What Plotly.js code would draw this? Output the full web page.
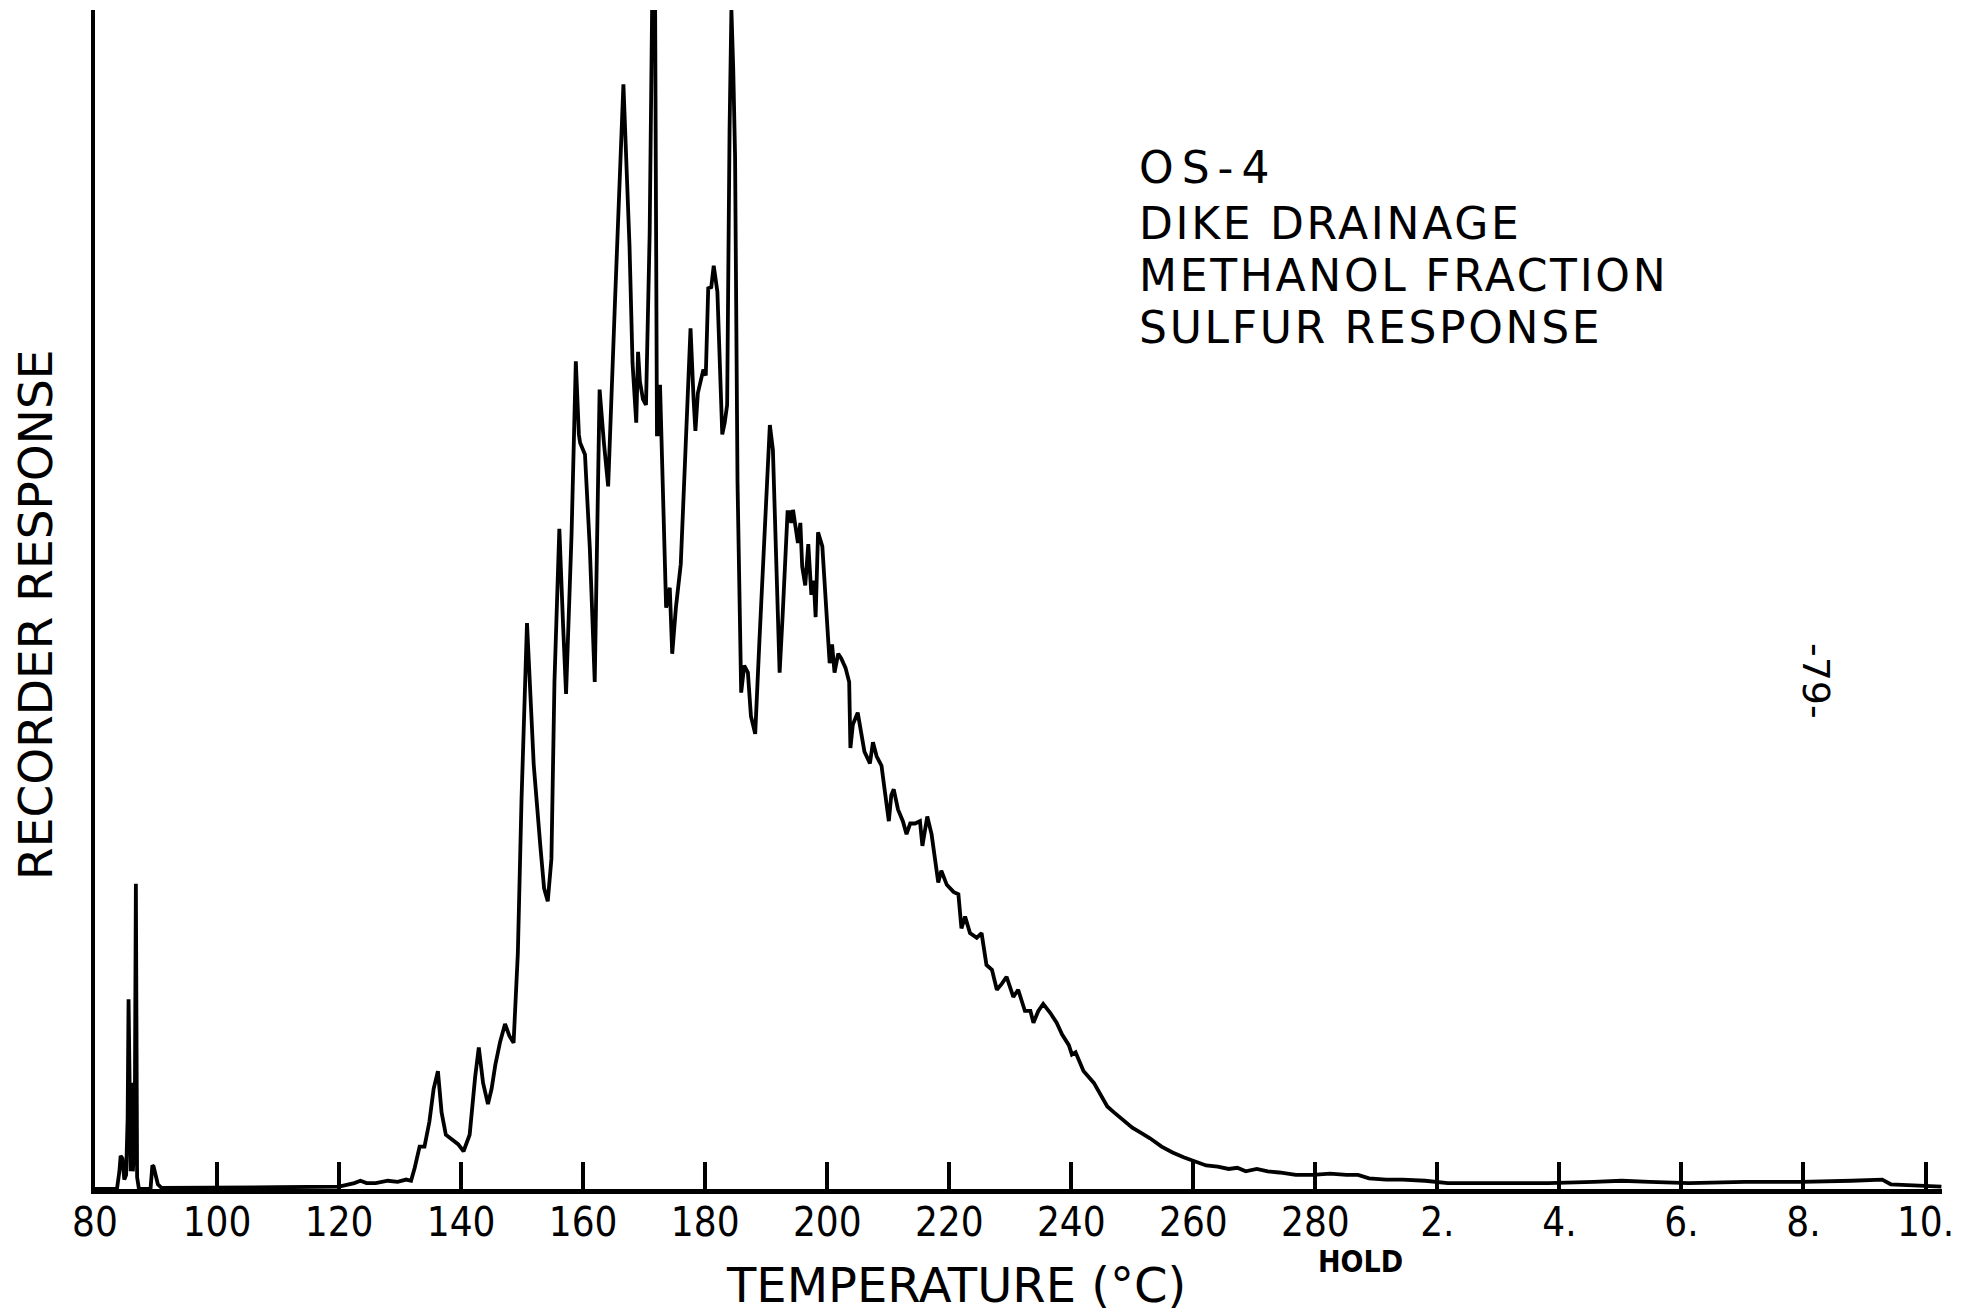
<!DOCTYPE html>
<html>
<head>
<meta charset="utf-8">
<script src="https://cdn.plot.ly/plotly-3.0.1.min.js"></script>
<style>
  html, body { margin: 0; padding: 0; background: #ffffff; }
  #chart { width: 1977px; height: 1316px; }
  g.annotation[data-index="0"] text { letter-spacing: 8px; }
  g.annotation[data-index="1"] text,
  g.annotation[data-index="2"] text,
  g.annotation[data-index="3"] text { letter-spacing: 2.7px; }
</style>
</head>
<body>
<div id="chart"></div>
<script>
// Chromatogram position along the recorder chart.
// 80..280 = oven temperature (deg C); beyond 280 the oven holds and the
// axis counts hold minutes (2., 4., ... 10.), each 2-minute step drawn like a 20-degree step.
const chartPosition = [
  80, 83.6, 84.0, 84.2, 84.5, 84.8, 85.1, 85.35, 85.5, 85.7, 85.85, 86.0, 86.2, 86.5, 86.7, 86.9, 87.2,
  89.1, 89.4, 89.6, 89.9, 90.3, 90.9, 100, 110, 120,
  121, 122.5, 123.5, 124.5, 126, 128, 129.6, 131, 131.8,
  132.4, 133.2, 134.0, 134.8, 135.5, 136.2, 136.8, 137.5, 138.6, 139.5, 140.4, 141.4, 142.3, 142.9,
  143.6, 144.4, 145.0, 145.6, 146.4, 147.2, 147.9, 148.6, 149.3, 149.9, 150.8,
  151.5, 151.9, 153.0, 153.6, 154.2, 154.8, 155.3, 156.1, 156.7, 157.2, 158.1, 158.8, 159.3, 159.5,
  160.3, 161.1, 161.9, 162.3, 162.7, 163.4, 163.9, 164.1, 165.2, 165.9, 166.6, 167.6, 168.1, 168.7,
  169.0, 169.3, 169.8, 170.3, 170.9, 171.3, 171.8, 172.1, 172.3, 172.6, 173.0, 173.6, 174.2, 174.6,
  175.2, 176.0, 176.8, 177.6, 178.1, 178.4, 178.8, 179.2, 179.7, 180.1, 180.5, 181.0, 181.4, 182.0,
  182.4, 182.8, 183.2, 183.6, 184.0, 184.3, 184.6, 184.9, 185.3,
  185.9, 186.4, 187.0, 187.5, 188.2, 188.9, 190.0, 190.6, 191.1, 191.6, 192.2, 192.7, 193.5, 193.8,
  194.1, 194.4, 194.9, 195.2, 195.6, 195.9, 196.4, 196.9, 197.4, 197.8, 198.1, 198.5, 199.2, 199.8,
  200.4, 200.8, 201.2, 201.8, 202.3, 203.0, 203.6, 203.8, 204.2, 205.0, 205.6, 206.1, 207.0, 207.5,
  208.1, 208.9, 209.4, 210.1, 210.5, 210.9, 211.6, 212.4, 213.0, 213.6, 214.4, 215.2, 215.6, 216.4,
  217.1, 217.6, 218.2, 218.7, 219.6, 220.7, 221.5, 222.0, 222.6, 223.4, 224.5, 225.3, 226.1, 227.0,
  227.8, 228.6, 229.4, 230.5, 231.3, 232.4, 233.3, 233.8, 234.6, 235.4, 236.6, 237.6, 238.5, 239.6,
  240.1, 240.7, 242.0, 243.7, 245.0, 245.9, 247.0, 248.6, 250.0, 251.3,
  252.9, 254.8, 256.6, 258.4, 260.3, 262.1, 264.0, 265.8, 267.2, 268.6, 270.4, 272.2, 274.1, 276.8,
  279.6, 282.4, 285.1, 287.0, 288.8, 291.6, 294.3, 298.0, 301.7, 309.0, 318.2, 325.6, 330.2, 334.8,
  341.2, 350.4, 359.6, 367.9, 372.9, 374.3, 378.0, 382.6
];

// Recorder response, percent of full chart height (peaks near 171 and 184 run off scale).
const recorderResponse = [
  0, 0, 1.5, 2.8, 2.6, 0.8, 1.2, 6, 16.1, 3, 1.5, 9, 1.5, 4, 25.9, 1, 0,
  0, 2.0, 1.9, 1.3, 0.4, 0.1, 0.1, 0.15, 0.2,
  0.3, 0.5, 0.7, 0.5, 0.5, 0.7, 0.6, 0.8, 0.7,
  1.8, 3.6, 3.6, 5.7, 8.5, 10.0, 6.5, 4.6, 4.2, 3.8, 3.2, 4.6, 9.5, 12.0,
  9.0, 7.2, 8.5, 10.5, 12.5, 14.0, 13.0, 12.4, 20, 33, 48.0,
  40.5, 36, 29, 25.5, 24.4, 28, 43, 56.0, 48, 42, 55.5, 70.2, 64, 63.3,
  62.3, 54.3, 43.0, 55, 67.8, 63.3, 60.0, 59.6, 75, 85, 93.7, 80, 70, 65,
  71, 68.5, 67, 66.5, 81, 100, 100, 64, 64, 68.2, 60, 49.3, 51, 45.4,
  49.3, 53, 63, 73, 67, 64.3, 67.5, 68.5, 69.5, 69, 76.4, 76.5, 78.3, 76.1,
  70, 64, 65, 66.5, 90, 100, 95, 87.6, 60,
  42.1, 44.4, 43.8, 40.1, 38.6, 46.6, 59.0, 64.8, 62.7, 52.8, 43.8, 48.7, 57.4, 57.4,
  56.5, 57.6, 55.9, 54.8, 56.5, 52.8, 51.2, 54.7, 50.4, 51.6, 48.5, 55.7, 54.5, 49.5,
  44.6, 46.2, 43.8, 45.4, 45.0, 44.2, 43.0, 37.4, 39.4, 40.4, 38.8, 37.1, 36.1, 37.9,
  36.7, 35.9, 33.9, 31.2, 33.4, 33.9, 32.2, 31.2, 30.1, 31.0, 31.0, 31.2, 29.1, 31.6,
  30.1, 28.1, 26.0, 27.0, 25.8, 25.2, 25.0, 22.1, 23.1, 21.7, 21.3, 21.7, 19.0, 18.6,
  16.9, 17.4, 18.0, 16.3, 16.9, 15.1, 15.1, 14.1, 15.1, 15.7, 14.9, 14.1, 13.1, 12.2,
  11.4, 11.6, 10.0, 9.0, 7.9, 7.0, 6.5, 5.8, 5.2, 4.8,
  4.3, 3.6, 3.1, 2.7, 2.3, 2.0, 1.9, 1.7, 1.8, 1.5, 1.7, 1.5, 1.4, 1.2,
  1.2, 1.3, 1.2, 1.2, 0.9, 0.8, 0.8, 0.7, 0.5, 0.5, 0.5, 0.6, 0.7, 0.6,
  0.5, 0.6, 0.6, 0.7, 0.8, 0.4, 0.3, 0.2
];

const tickPositions = [80, 100, 120, 140, 160, 180, 200, 220, 240, 260, 280, 300, 320, 340, 360, 380];
const tickLabels = ["80", "100", "120", "140", "160", "180", "200", "220", "240", "260", "280",
                    "2.", "4.", "6.", "8.", "10."];

const sampleLines = ["OS-4", "DIKE DRAINAGE", "METHANOL FRACTION", "SULFUR RESPONSE"];
const xTitle = "TEMPERATURE (°C)";
const yTitle = "RECORDER RESPONSE";
const holdLabel = "HOLD";
const pageLabel = "-79-";

const FONT = '"DejaVu Sans", sans-serif';
const FONT_NARROW = '"DejaVu Sans Condensed", "DejaVu Sans", sans-serif';

const trace = {
  type: 'scatter',
  mode: 'lines',
  x: chartPosition,
  y: recorderResponse,
  line: { color: '#000000', width: 3.8, shape: 'linear' },
  hoverinfo: 'skip',
  showlegend: false
};

const lineY = [0.8660, 0.8193, 0.7752, 0.7311];
const annotations = sampleLines.map((t, i) => ({
  text: t, xref: 'paper', yref: 'paper', x: 0.5642, y: lineY[i],
  xanchor: 'left', yanchor: 'middle', align: 'left', showarrow: false,
  font: { family: FONT, size: 44, color: '#000000' }
}));
annotations.push({
  text: xTitle, xref: 'paper', yref: 'paper', x: 0.4662, y: -0.0814,
  xanchor: 'center', yanchor: 'middle', showarrow: false,
  font: { family: FONT, size: 48, color: '#000000' }
});
annotations.push({
  text: yTitle, xref: 'paper', yref: 'paper', x: -0.0325, y: 0.4877,
  xanchor: 'center', yanchor: 'middle', showarrow: false, textangle: -90,
  font: { family: FONT, size: 47, color: '#000000' }
});
annotations.push({
  text: holdLabel, xref: 'paper', yref: 'paper', x: 0.6849, y: -0.0611,
  xanchor: 'center', yanchor: 'middle', showarrow: false,
  font: { family: FONT_NARROW, size: 30, color: '#000000', weight: 'bold' }
});
annotations.push({
  text: pageLabel, xref: 'paper', yref: 'paper', x: 0.9318, y: 0.4309,
  xanchor: 'center', yanchor: 'middle', showarrow: false, textangle: 90,
  font: { family: FONT, size: 38, color: '#000000' }
});

const layout = {
  width: 1977, height: 1316, autosize: false,
  margin: { l: 95, r: 35, t: 10, b: 127, pad: 0 },
  paper_bgcolor: '#ffffff', plot_bgcolor: '#ffffff',
  showlegend: false,
  xaxis: {
    range: [80, 382.7], tickmode: 'array', tickvals: tickPositions, ticktext: tickLabels,
    ticks: 'inside', ticklen: 27, tickwidth: 4, tickcolor: '#000000',
    showline: true, linewidth: 4.5, linecolor: '#000000', mirror: false,
    showgrid: false, zeroline: false,
    tickfont: { family: FONT_NARROW, size: 40, color: '#000000' },
    ticklabelstandoff: -6
  },
  yaxis: {
    range: [0, 100], showline: true, linewidth: 4, linecolor: '#000000',
    showticklabels: false, ticks: '', showgrid: false, zeroline: false
  },
  annotations: annotations
};

Plotly.newPlot('chart', [trace], layout, { staticPlot: true, displayModeBar: false });
</script>
</body>
</html>
